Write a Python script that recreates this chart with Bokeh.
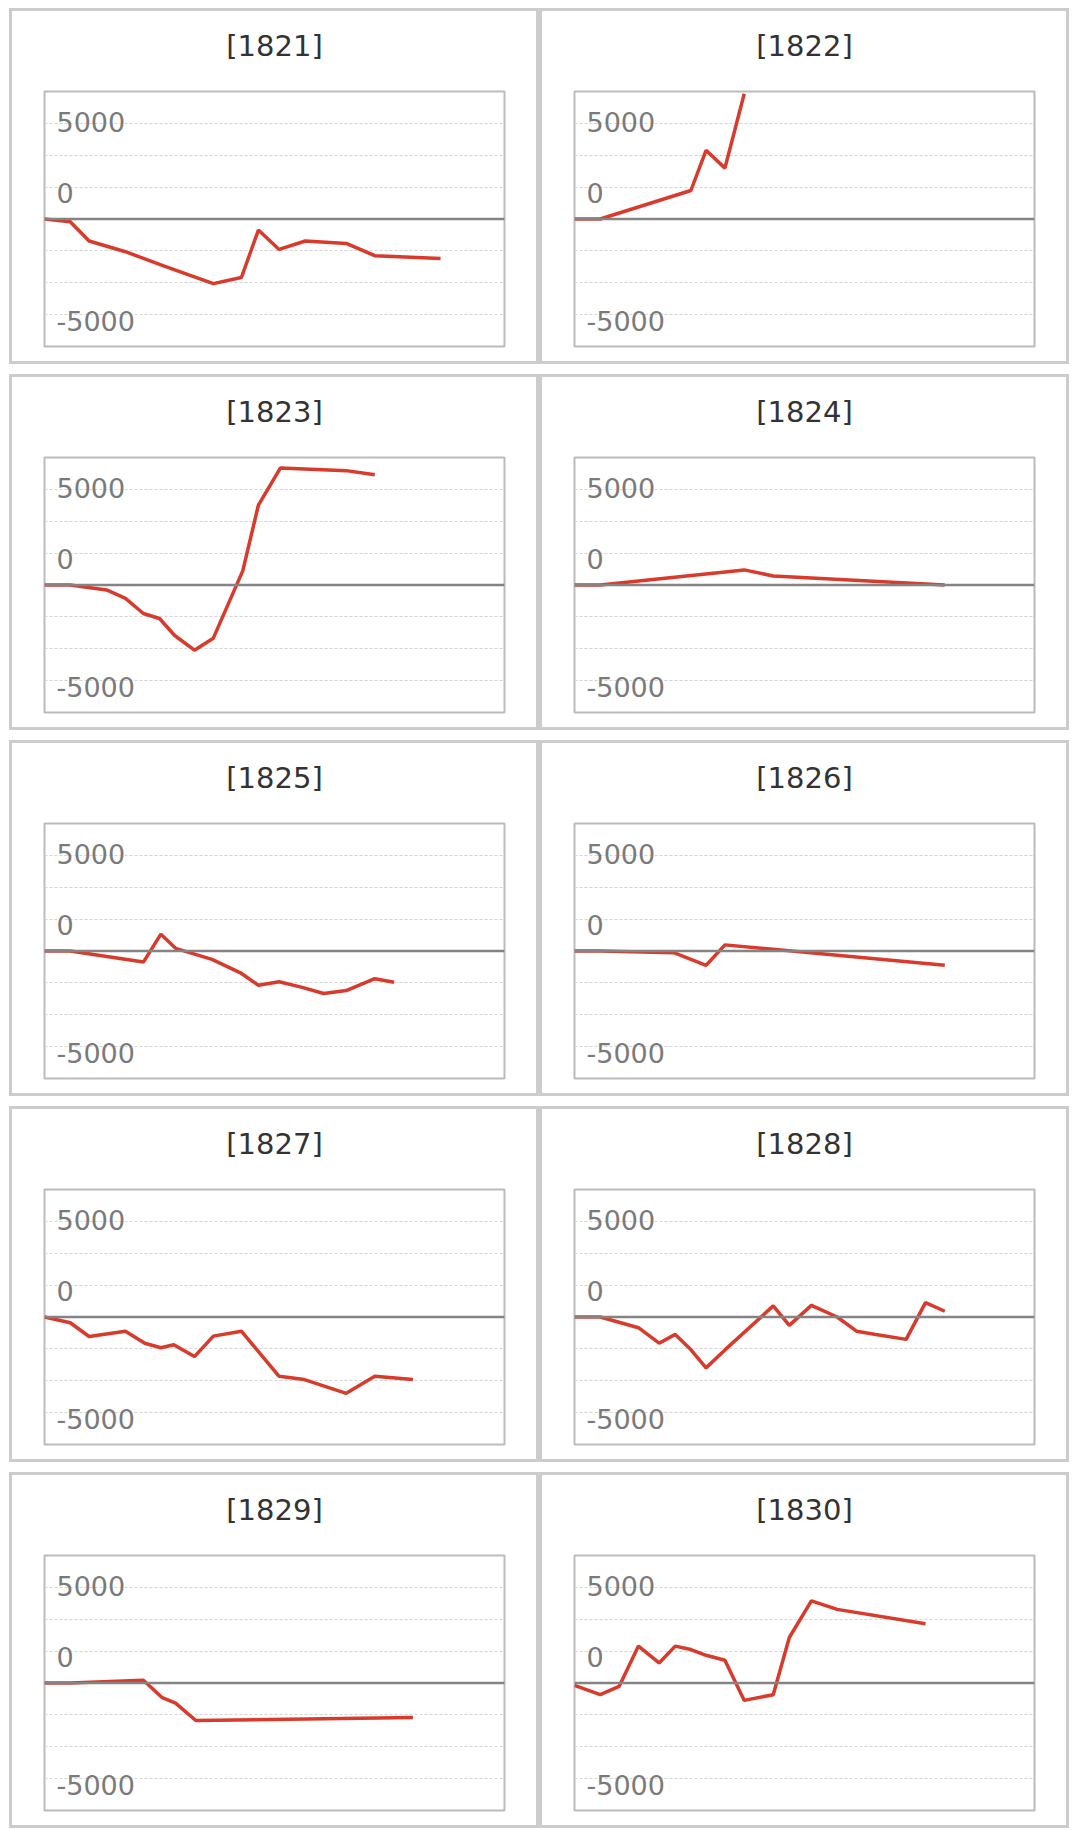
from bokeh.plotting import figure
from bokeh.models import Range1d, Span, FixedTicker, Grid, Title
from bokeh.layouts import column, row
from bokeh.embed import file_html
from bokeh.resources import INLINE
from bokeh.core.properties import value

# ---------------- data ----------------
titles = ["[1821]", "[1822]", "[1823]", "[1824]", "[1825]",
          "[1826]", "[1827]", "[1828]", "[1829]", "[1830]"]

x_1821 = [0, 5.6, 9.7, 17.6, 25.9, 36.7, 42.8, 46.5, 51.0, 56.7, 65.6, 71.8, 86.1]
y_1821 = [0, -140, -1150, -1710, -2450, -3380, -3060, -580, -1590, -1150, -1280, -1920, -2060]

x_1822 = [0, 5.6, 25.3, 28.6, 32.7, 36.9]
y_1822 = [0, 0, 1490, 3590, 2660, 6550]

x_1823 = [0, 5.6, 13.5, 17.6, 21.5, 25.0, 28.3, 32.6, 36.7, 43.1, 46.5, 51.3, 65.6, 71.8]
y_1823 = [0, 0, -260, -700, -1490, -1750, -2640, -3410, -2780, 740, 4180, 6120, 5980, 5770]

x_1824 = [0, 5.6, 36.9, 43.2, 80.5]
y_1824 = [0, 0, 790, 470, 0]

x_1825 = [0, 5.6, 21.5, 25.3, 28.5, 36.4, 42.6, 46.5, 51.0, 55.8, 60.7, 65.6, 71.8, 76.0]
y_1825 = [0, 0, -580, 880, 140, -440, -1140, -1790, -1610, -1890, -2220, -2070, -1450, -1630]

x_1826 = [0, 5.6, 21.6, 28.6, 32.7, 80.5]
y_1826 = [0, 0, -90, -750, 320, -750]

x_1827 = [0, 5.6, 9.7, 17.6, 21.8, 25.3, 28.1, 32.6, 36.7, 42.8, 51.0, 56.5, 65.6, 71.8, 80.1]
y_1827 = [0, -300, -1020, -740, -1370, -1610, -1450, -2070, -1000, -740, -3100, -3270, -3990, -3100, -3270]

x_1828 = [0, 5.6, 13.9, 18.4, 21.9, 25.1, 28.6, 32.7, 43.2, 46.7, 51.5, 57.1, 61.3, 65.5, 72.1, 76.3, 80.5]
y_1828 = [0, 0, -560, -1370, -910, -1660, -2660, -1720, 580, -440, 610, 0, -740, -910, -1170, 750, 300]

x_1829 = [0, 5.6, 21.5, 25.6, 28.5, 32.9, 80.1]
y_1829 = [0, 0, 140, -770, -1050, -1960, -1800]

x_1830 = [0, 5.6, 9.7, 13.9, 18.4, 21.9, 25.3, 28.6, 32.7, 36.9, 43.2, 46.7, 51.5, 57.1, 76.3]
y_1830 = [-120, -610, -180, 1930, 1050, 1930, 1750, 1450, 1190, -910, -610, 2380, 4290, 3850, 3100]

series = [(x_1821, y_1821), (x_1822, y_1822), (x_1823, y_1823), (x_1824, y_1824),
          (x_1825, y_1825), (x_1826, y_1826), (x_1827, y_1827), (x_1828, y_1828),
          (x_1829, y_1829), (x_1830, y_1830)]

ytick_labels = ["5000", "0", "-5000"]
ytick_label_pos = [5080, 1380, -5330]

# ---------------- style ----------------
FONT = "DejaVu Sans"
RED = "#d83a2c"
Y_MAX = 20000 / 3
STEP = 5000 / 3
grid_ticks = [k * STEP for k in (-3, -2, -1, 1, 2, 3)]


def make_panel(title, xs, ys):
    p = figure(width=530, height=356,
               x_range=Range1d(0, 100), y_range=Range1d(-Y_MAX, Y_MAX),
               output_backend="svg", toolbar_location=None,
               x_axis_location=None, y_axis_location=None,
               title=None)
    p.min_border_left = 32
    p.min_border_right = 38
    p.min_border_top = 80
    p.min_border_bottom = 21
    # spacer between the title and the plot frame
    p.add_layout(Title(text=" ", text_font_size="1px", standoff=26), "above")
    p.add_layout(Title(text=title, align="center", text_font=FONT,
                       text_font_size="29px", text_font_style="normal",
                       text_color="#333333", standoff=0), "above")
    p.xgrid.visible = False
    p.ygrid.visible = False
    p.add_layout(Grid(dimension=1, ticker=FixedTicker(ticks=grid_ticks),
                      grid_line_color="#d4d4d4", grid_line_width=1,
                      grid_line_dash="3 2"))
    p.outline_line_color = "#bbbbbb"
    p.outline_line_width = 2
    p.background_fill_color = "white"
    p.border_fill_color = "white"
    p.add_layout(Span(location=0, dimension="width",
                      line_color="#848484", line_width=2.5))
    p.text(x=[0] * len(ytick_labels), y=ytick_label_pos, text=ytick_labels,
           x_offset=12, text_align="left", text_baseline="middle",
           text_font=value(FONT), text_font_size="27px", text_color="#7a7a7a")
    p.line(xs, ys, line_color=RED, line_width=3.5)
    p.styles = {"border": "3px solid #cccccc", "box-sizing": "border-box"}
    return p


panels = [make_panel(t, xs, ys) for t, (xs, ys) in zip(titles, series)]
rows = [row(panels[i], panels[i + 1], spacing=0) for i in range(0, 10, 2)]
layout = column(*rows, spacing=10)
layout.styles = {"margin-left": "9px", "margin-top": "8px"}

open("out.html", "w").write(file_html(layout, INLINE))
